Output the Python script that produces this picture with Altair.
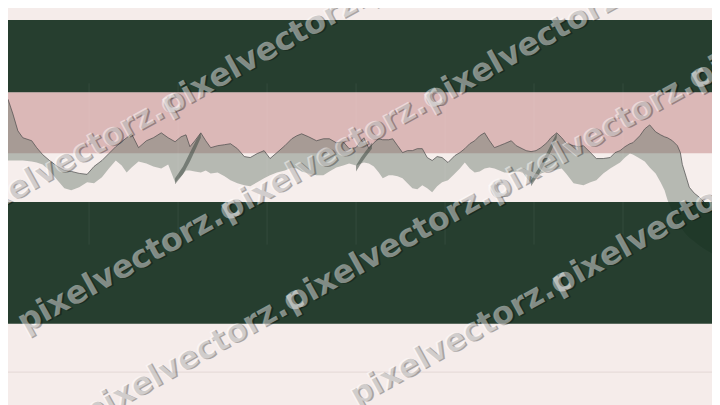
import altair as alt
import pandas as pd

W, H = 712, 397

# ---- data ----
band_top = [18, 91, 153, 202]
band_bottom = [91, 153, 202, 325]
band_color = ["#0f2b1b", "#dbb8b7", "#f6eeec", "#0f2b1b"]
band_opacity = [0.9, 1.0, 1.0, 0.9]
band_layer_order = ["over", "under", "under", "over"]

grid_x = [90, 180, 270, 360, 450, 540, 630]

xs = [0, 8, 13, 18, 23, 32, 37, 43, 50, 58, 65, 72, 80, 88, 95, 103, 110, 117, 123, 128,
      133, 140, 148, 155, 163, 170, 177, 183, 188, 192, 197, 203, 208, 213, 220, 227, 233,
      240, 247, 253, 260, 267, 273, 280, 288, 295, 300, 305, 312, 320, 327, 333, 340, 347,
      353, 360, 365, 368, 373, 378, 383, 387, 393, 397, 402, 407, 412, 417, 422, 427, 432,
      437, 442, 447, 453, 460, 465, 470, 475, 480, 485, 490, 495, 500, 505, 510, 517, 522,
      528, 532, 537, 542, 547, 553, 557, 563, 568, 573, 580, 585, 590, 597, 603, 610, 617,
      622, 627, 632, 637, 640, 647, 652, 657, 663, 668, 672, 675, 680, 685, 688, 690, 694,
      697, 702, 707, 713, 720]
upper = [98, 98, 113, 130, 137, 140, 147, 154, 160, 166, 170, 171, 173, 174, 166, 160, 153,
         146, 141, 137, 133, 147, 140, 137, 132, 137, 141, 136, 134, 146, 140, 132, 140, 147,
         145, 144, 143, 148, 156, 157, 153, 150, 158, 152, 145, 138, 135, 133, 136, 140, 138,
         138, 142, 141, 148, 147, 140, 137, 148, 142, 138, 139, 139, 138, 145, 152, 150, 150,
         148, 148, 157, 160, 156, 157, 162, 155, 152, 148, 143, 140, 135, 132, 140, 147, 145,
         143, 140, 145, 148, 150, 151, 150, 147, 142, 137, 132, 137, 143, 145, 146, 145, 152,
         158, 158, 157, 152, 150, 146, 143, 142, 135, 128, 124, 131, 134, 136, 137, 140, 145,
         152, 164, 177, 187, 193, 197, 203, 212]
lower = [160, 160, 160, 160, 160, 161, 162, 164, 170, 180, 188, 190, 187, 182, 183, 177, 168,
         160, 165, 172, 167, 161, 163, 166, 168, 164, 182, 176, 170, 170, 171, 172, 170, 173,
         172, 176, 180, 183, 185, 186, 182, 178, 175, 172, 170, 167, 168, 171, 173, 175, 175,
         171, 167, 165, 163, 165, 163, 162, 163, 166, 172, 178, 175, 175, 176, 178, 183, 188,
         189, 185, 188, 192, 186, 182, 180, 173, 168, 162, 168, 172, 171, 168, 167, 168, 170,
         172, 172, 171, 171, 177, 183, 178, 173, 171, 170, 169, 168, 174, 183, 184, 185, 182,
         180, 173, 168, 165, 162, 157, 153, 154, 158, 161, 167, 173, 182, 190, 200, 212, 222,
         227, 230, 235, 238, 242, 246, 250, 254]

streak_id = ["a"] * 5 + ["b"] * 4 + ["c"] * 5
streak_x = [177, 185, 192, 198, 203, 360, 365, 370, 376, 537, 545, 552, 558, 563]
streak_top = [178, 166, 152, 140, 132, 165, 157, 150, 142, 180, 167, 154, 142, 132]
streak_bot = [184, 174, 161, 148, 137, 171, 163, 156, 148, 186, 174, 161, 149, 137]

wm_word = "pixelvectorz.c"
wm_x = [-40, 165, 370, 20, 225, 430, 635, 85, 290, 495, 700, 355, 560]
wm_y = [219, 106, -7, 326, 213, 101, -12, 418, 305, 193, 80, 400, 287]

# ---- chart ----
xs_scale = alt.Scale(domain=[8, 720], nice=False, zero=False)
ys_scale = alt.Scale(domain=[8, 405], nice=False, zero=False, reverse=True)
X = lambda f: alt.X(f, type="quantitative", scale=xs_scale, axis=None)
Y = lambda f: alt.Y(f, type="quantitative", scale=ys_scale, axis=None)

bands = pd.DataFrame({"top": band_top, "bottom": band_bottom, "color": band_color,
                      "op": band_opacity, "order": band_layer_order})


def band_layer(which):
    return alt.Chart(bands).transform_filter(alt.datum.order == which).mark_rect().encode(
        x=alt.value(0), x2=alt.value(W),
        y=Y("top"), y2=alt.Y2("bottom"),
        color=alt.Color("color:N", scale=None),
        opacity=alt.Opacity("op:Q", scale=None),
    )


hline = alt.Chart(pd.DataFrame({"y": [374]})).mark_rule(color="#e3d7d4", strokeWidth=1).encode(
    y=Y("y"), x=alt.value(0), x2=alt.value(W)
)

grid = alt.Chart(pd.DataFrame({"x": grid_x, "y1": [82] * 7, "y2": [245] * 7})).mark_rule(
    color="#ffffff", opacity=0.07, strokeWidth=1
).encode(x=X("x"), y=Y("y1"), y2=alt.Y2("y2"))

series = pd.DataFrame({"x": xs, "upper": upper, "lower": lower})
area = alt.Chart(series).mark_area(color="#69776d", opacity=0.45).encode(
    x=X("x"), y=Y("upper"), y2=alt.Y2("lower")
)
line = alt.Chart(series).mark_line(color="#4a4a4a", strokeWidth=1, opacity=0.7).encode(
    x=X("x"), y=Y("upper")
)

streaks = pd.DataFrame({"id": streak_id, "x": streak_x, "top": streak_top, "bot": streak_bot})
streak_layer = alt.Chart(streaks).mark_area(color="#3f4b44", opacity=0.55).encode(
    x=X("x"), y=Y("top"), y2=alt.Y2("bot"), detail="id:N"
)

wm = pd.DataFrame({"x": wm_x, "y": wm_y, "t": [wm_word] * len(wm_x)})
wm_common = dict(font="DejaVu Sans", fontSize=32, fontWeight="bold", angle=331,
                 align="left", baseline="middle")
wm_shadow = alt.Chart(wm).mark_text(
    color="#000000", opacity=0.3, dx=1.5, dy=1.5, **wm_common
).encode(x=X("x"), y=Y("y"), text="t:N")
wm_text = alt.Chart(wm).mark_text(
    color="#ffffff", opacity=0.45, **wm_common
).encode(x=X("x"), y=Y("y"), text="t:N")

chart = alt.layer(
    band_layer("under"), hline, area, line, streak_layer, band_layer("over"), grid,
    wm_shadow, wm_text
).properties(
    width=W, height=H, padding=0, autosize=alt.AutoSizeParams(type="none"),
    background="#f5ecea"
).configure_view(stroke=None)

chart.save("out.html", embed_options={"renderer": "svg", "actions": False})
